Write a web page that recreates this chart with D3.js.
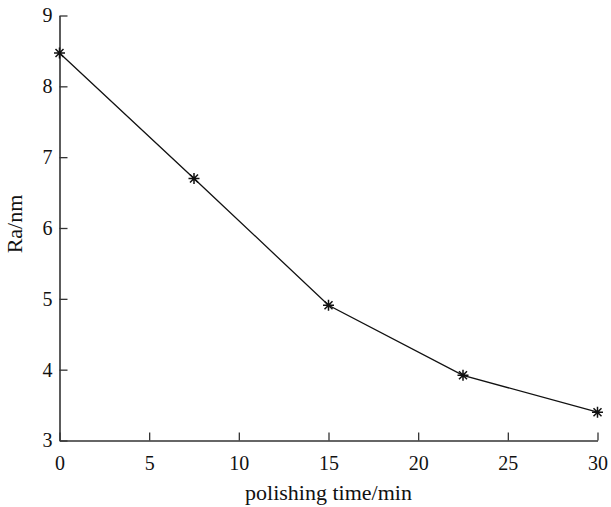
<!DOCTYPE html>
<html><head><meta charset="utf-8">
<script src="https://cdn.jsdelivr.net/npm/d3@7"></script>
<style>body{margin:0;background:#fff}</style>
</head><body><svg id="c" width="611" height="507"></svg>
<script>
const times = [0, 7.5, 15, 22.5, 30];
const ra = [8.47, 6.70, 4.91, 3.92, 3.40];
const xTicks = [0, 5, 10, 15, 20, 25, 30];
const yTicks = [3, 4, 5, 6, 7, 8, 9];
const xTitle = "polishing time/min";
const yTitle = "Ra/nm";

const FONT = "Liberation Serif";
const svg = d3.select("#c");
const x = d3.scaleLinear().domain([0, 30]).range([59.5, 597.5]);
const y = d3.scaleLinear().domain([3, 9]).range([440.5, 15.5]);
const col = "#333";

const gx = svg.append("g").attr("transform", "translate(0,440.5)")
  .call(d3.axisBottom(x).tickValues(xTicks).tickFormat(d3.format("d")).tickSizeInner(-8).tickSizeOuter(0).tickPadding(15));
const gy = svg.append("g").attr("transform", "translate(59.5,0)")
  .call(d3.axisLeft(y).tickValues(yTicks).tickFormat(d3.format("d")).tickSizeInner(-8).tickSizeOuter(0).tickPadding(7));
[gx, gy].forEach(g => {
  g.attr("font-family", FONT).attr("font-size", 20);
  g.select(".domain").attr("stroke", col).attr("stroke-width", 1.6);
  g.selectAll(".tick line").attr("stroke", col).attr("stroke-width", 1.3);
  g.selectAll(".tick text").attr("fill", "#111");
});
gx.selectAll(".tick text").attr("dy", "0.71em");

svg.append("path").datum(times.map((t, i) => [t, ra[i]]))
  .attr("fill", "none").attr("stroke", "#111").attr("stroke-width", 1.3)
  .attr("d", d3.line().x(d => x(d[0])).y(d => y(d[1])));

const s = 5.5, s2 = 4;
const mk = svg.append("g").selectAll("g").data(times.map((t, i) => [t, ra[i]])).join("g")
  .attr("transform", d => `translate(${x(d[0])},${y(d[1])})`);
mk.append("path")
  .attr("d", `M${-s},0H${s}M0,${-s}V${s}M${-s2},${-s2}L${s2},${s2}M${-s2},${s2}L${s2},${-s2}`)
  .attr("stroke", "#111").attr("stroke-width", 1.5).attr("fill", "none");

svg.append("text").attr("x", x(15)).attr("y", 500).attr("text-anchor", "middle")
  .attr("font-family", FONT).attr("font-size", 22).attr("fill", "#111").text(xTitle);
svg.append("text").attr("transform", `translate(22,224) rotate(-90)`).attr("text-anchor", "middle")
  .attr("font-family", FONT).attr("font-size", 22).attr("fill", "#111").text(yTitle);
</script></body></html>
